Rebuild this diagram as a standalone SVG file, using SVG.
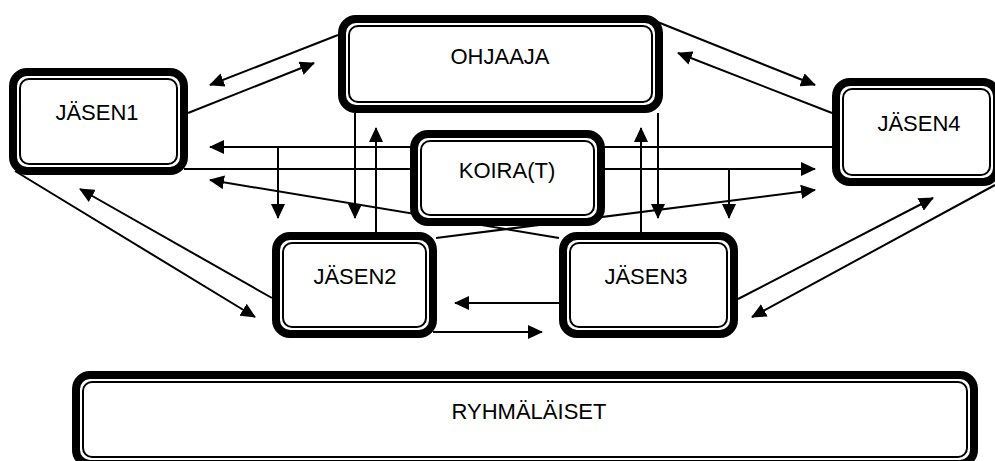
<svg xmlns="http://www.w3.org/2000/svg" width="995" height="461" viewBox="0 0 995 461">
<style>
.bg{fill:#ffffff}
.outer{fill:#ffffff;stroke:#000000;stroke-width:8}
.inner{fill:none;stroke:#000000;stroke-width:2}
.lbl{font-family:"Liberation Sans",Arial,sans-serif;font-size:22px;fill:#000000;text-anchor:middle}
.con path{fill:none;stroke:#000000;stroke-width:2;marker-end:url(#arr)}
</style>
<defs>
<marker id="arr" markerUnits="userSpaceOnUse" viewBox="0 0 15 14" refX="14" refY="7" markerWidth="15" markerHeight="14" orient="auto">
<path d="M0,0 L15,7 L0,14 Z" fill="#000000"/>
</marker>
</defs>
<rect class="bg" x="0" y="0" width="995" height="461"/>
<g id="connectors" class="con">
<path d="M338,35 L210,85"/>
<path d="M188,113 L314,63"/>
<path d="M655,21 L815,85"/>
<path d="M832,113 L678,53"/>
<path d="M832,147 L210,147"/>
<path d="M278,147 L278,218"/>
<path d="M184,169 L815,169"/>
<path d="M729,169 L729,218"/>
<path d="M559,238 L210,180"/>
<path d="M436,238 L815,190"/>
<path d="M355,113 L355,218"/>
<path d="M376,232 L376,128"/>
<path d="M641,232 L641,128"/>
<path d="M658,113 L658,218"/>
<path d="M15,171 L255,317"/>
<path d="M272,298 L80,189"/>
<path d="M559,303 L455,303"/>
<path d="M433,332 L542,332"/>
<path d="M738,299 L933,198"/>
<path d="M995,185 L752,317"/>
</g>
<g id="jasen1">
<rect class="outer" x="13" y="72" width="171" height="99" rx="14"/>
<rect class="inner" x="20" y="79" width="157" height="85" rx="9"/>
<text class="lbl" x="97" y="120">JÄSEN1</text>
</g>
<g id="ohjaaja">
<rect class="outer" x="342" y="19" width="317" height="90" rx="14"/>
<rect class="inner" x="349" y="26" width="303" height="76" rx="9"/>
<text class="lbl" x="500" y="64">OHJAAJA</text>
</g>
<g id="koira">
<rect class="outer" x="414" y="134" width="187" height="88" rx="14"/>
<rect class="inner" x="421" y="141" width="173" height="74" rx="9"/>
<text class="lbl" x="507" y="178">KOIRA(T)</text>
</g>
<g id="jasen4">
<rect class="outer" x="836" y="82" width="161" height="100" rx="14"/>
<rect class="inner" x="843" y="89" width="147" height="86" rx="9"/>
<text class="lbl" x="919" y="131">JÄSEN4</text>
</g>
<g id="jasen2">
<rect class="outer" x="276" y="236" width="157" height="98" rx="14"/>
<rect class="inner" x="283" y="243" width="143" height="84" rx="9"/>
<text class="lbl" x="355" y="284">JÄSEN2</text>
</g>
<g id="jasen3">
<rect class="outer" x="563" y="236" width="171" height="98" rx="14"/>
<rect class="inner" x="570" y="243" width="157" height="84" rx="9"/>
<text class="lbl" x="646" y="284">JÄSEN3</text>
</g>
<g id="ryhmalaiset">
<rect class="outer" x="76" y="375" width="898" height="89" rx="14"/>
<rect class="inner" x="83" y="382" width="884" height="75" rx="9"/>
<text class="lbl" x="529" y="419">RYHMÄLÄISET</text>
</g>
</svg>
